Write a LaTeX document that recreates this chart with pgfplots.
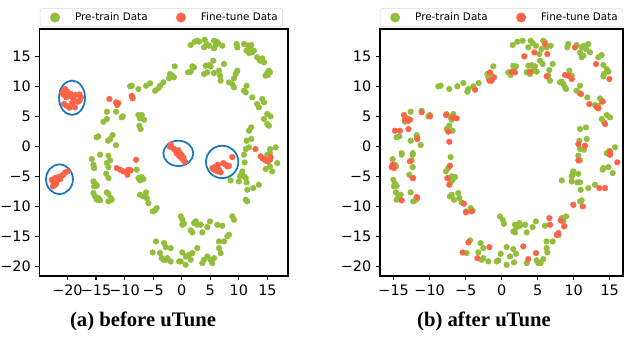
\documentclass[border=0pt]{standalone}
\usepackage{pgfplots}
\pgfplotsset{compat=1.18}
\usepackage{fontspec}
\setmainfont{DejaVu Sans}
\newfontfamily\capfont{Liberation Serif}
\definecolor{pgreen}{RGB}{146,190,60}
\definecolor{porange}{RGB}{255,99,71}
\definecolor{circcol}{RGB}{23,118,190}
\pgfplotsset{
  tsne/.style={
    scale only axis,
    axis line style={black, line width=0.8pt},
    tick align=outside, major tick length=3pt,
    tick style={black, line width=0.8pt},
    xtick pos=bottom, ytick pos=left,
    ymin=-21.6, ymax=19.55,
    ytick={-20,-15,-10,-5,0,5,10,15},
    yticklabels={−20,−15,−10,−5,0,5,10,15},
    ticklabel style={font=\fontsize{10.8}{12}\selectfont},
    legend columns=2,
    legend cell align=left,
    legend style={at={(0.5,1)}, anchor=south, yshift=1.5pt, draw=black!15, rounded corners=2pt,
      font=\fontsize{7.8}{9}\selectfont, inner xsep=3.75pt, inner ysep=3.2pt,
      nodes={inner xsep=0pt, inner ysep=0pt},
      /tikz/every odd column/.append style={column sep=0pt},
      /tikz/every even column/.append style={column sep=17.5pt}},
    legend image code/.code={\path[draw=none,fill=none] (0pt,0pt) -- (22.5pt,0pt);
      \path[##1,draw=none,mark size=3.5pt] plot coordinates {(7.5pt,0pt)};},
  },
  gr/.style={only marks, mark=*, mark size=2.1pt, mark options={draw=pgreen, fill=pgreen}},
  orr/.style={only marks, mark=*, mark size=2.1pt, mark options={draw=porange, fill=porange}},
}
\begin{document}
\begin{tikzpicture}
\path[use as bounding box] (0,0) rectangle (468pt,-252.75pt);
% ---------------- (a) before uTune ----------------
\begin{axis}[tsne, at={(29.6pt,-207pt)}, anchor=south west, width=186.4pt, height=185.25pt,
  xmin=-24.9, xmax=18.6,
  legend style={xshift=-1.8pt},
  xtick={-20,-15,-10,-5,0,5,10,15},
  xticklabels={−20,−15,−10,−5,0,5,10,15}]
\addplot[gr] coordinates {
(-8.74,10.1) (-9.04,10.0) (-7.59,9.55) (-6.24,10.1) (-5.54,10.5) (-4.67,9.27) (-4.09,9.67) (-3.8,10.1) (-3.2,10.67)
(-13.1,5.77) (-11.5,5.77) (-10.3,5.0) (-10.5,4.83) (-13.7,4.1) (-13.1,4.55)
(-7.59,5.22) (-7.0,5.22) (-7.3,4.66) (-6.6,4.44) (-7.4,3.44) (-7.2,2.88)
(-14.9,1.5) (-14.6,1.67) (-12.1,1.89) (-12.5,1.22) (-12.9,0.94) (-11.5,0.2)
(1.57,16.88) (2.27,17.44) (2.73,17.6) (3.03,17.44) (4.02,17.77) (4.37,17.05) (4.77,16.77) (3.9,16.49)
(5.65,17.6) (6.11,17.44) (5.94,16.88) (5.65,16.33) (6.35,17.22) (7.1,16.77) (9.61,17.05) (9.73,16.49)
(10.9,17.05) (11.6,16.77) (11.94,16.49) (12.17,16.88) (11.35,15.94) (11.77,15.55) (12.35,15.66) (12.64,15.94)
(13.2,14.83) (13.8,14.44) (14.1,14.66) (14.4,14.0) (13.69,14.27) (15.26,12.61) (14.97,12.22) (14.68,11.77)
(15.44,12.33) (15.09,11.88) (-1.23,13.33) (-2.04,12.05) (-1.64,11.77) (-1.35,11.5) (-2.22,11.33)
(1.1,12.33) (1.57,12.44) (1.86,13.33) (2.15,13.16) (3.9,12.05) (4.48,12.33) (4.19,13.44) (4.77,13.55)
(5.06,13.33) (5.53,14.27) (5.65,12.22) (6.52,12.61) (6.7,11.77) (6.81,10.94) (7.4,13.72) (9.73,12.61)
(9.43,12.05) (9.14,11.33) (8.27,10.66) (8.85,10.38) (9.14,9.83) (10.9,9.27) (11.2,8.99) (11.35,10.1)
(12.35,8.16) (14.1,7.88) (14.4,7.33) (13.2,7.05) (13.5,6.5) (14.97,5.38) (15.55,4.99) (14.4,4.55)
(14.97,3.72) (15.26,3.44) (12.17,3.16) (11.77,2.6) (11.35,0.94) (12.17,1.22) (11.77,-0.17) (11.2,-0.45)
(15.44,-0.45) (16.43,-0.17)
(-15.74,-2.12) (-14.28,-1.39) (-12.83,-1.56) (-12.54,-2.34) (-13.12,-2.78) (-12.83,-3.45) (-15.45,-3.06)
(-15.33,-3.62) (-13.23,-4.56) (-12.83,-5.28) (-15.45,-5.84) (-15.15,-6.23) (-15.33,-6.67) (-14.86,-6.56)
(-13.12,-7.67) (-12.83,-7.89) (-12.42,-8.62) (-12.83,-9.17) (-12.25,-8.89) (-15.45,-7.78) (-15.15,-8.34)
(-14.86,-8.89) (-14.57,-8.62) (-14.28,-9.0) (-7.87,-3.89) (-7.58,-5.28) (-7.0,-5.12) (-7.29,-5.67)
(-6.71,-5.45) (-7.29,-8.06) (-6.71,-8.34) (-6.24,-7.67) (-6.12,-8.62) (-5.83,-9.45) (-4.38,-10.28)
(-5.08,-10.84) (-4.67,-10.67) (-4.5,-15.84) (-5.08,-17.67) (-3.8,-17.78) (-3.51,-18.62) (-3.2,-18.89)
(10.9,-1.39) (11.0,-2.67) (10.6,-4.17) (10.4,-4.73) (10.2,-5.0) (10.9,-5.0) (11.2,-5.28) (11.35,-6.0)
(8.56,-5.67) (10.0,-5.84) (11.47,-7.23) (12.52,-6.95) (13.5,-6.4) (11.2,-8.89) (11.47,-9.17)
(14.68,-3.78) (15.44,-3.34) (15.84,-4.17) (16.72,-2.78) (14.97,-1.39) (15.44,-1.12)
(-0.18,-11.67) (0.11,-12.23) (0.4,-12.9) (0.11,-13.06) (2.15,-12.78) (2.44,-12.5) (2.73,-13.06)
(1.57,-14.0) (1.86,-14.34) (3.61,-14.34) (3.32,-13.06) (4.48,-13.45) (4.95,-12.5) (6.23,-13.06)
(7.1,-13.23) (8.85,-11.67) (9.14,-12.23) (8.27,-14.73) (7.98,-15.0) (7.4,-15.84) (6.52,-15.84)
(6.52,-16.95) (6.81,-17.78) (5.65,-18.62) (5.06,-18.9) (5.35,-19.45) (3.9,-18.9) (3.61,-19.45)
(4.48,-18.34) (2.73,-16.95) (1.86,-17.78) (1.28,-18.06) (1.57,-18.9) (0.69,-18.34) (0.11,-17.67)
(-0.18,-19.17) (-0.47,-19.17) (0.69,-19.73) (-1.93,-16.95) (-2.8,-16.78) (-3.09,-16.1) (-2.51,-18.62)
(-2.8,-18.9) (-1.93,-19.17)
};
\addlegendentry{Pre-train Data}
\addplot[orr] coordinates {
(-20.4,9.55) (-20.0,9.1) (-20.7,8.6) (-20.2,8.16) (-19.4,8.72) (-18.65,8.55) (-17.9,8.66) (-17.66,8.16)
(-18.95,7.88) (-18.2,7.44) (-19.2,7.22) (-20.2,6.78) (-19.65,6.44) (-18.7,6.5) (-20.6,7.05) (-17.9,7.6)
(-19.8,8.4) (-19.0,8.2) (-20.9,8.9)
(-12.66,7.88) (-11.5,7.33) (-11.1,7.2) (-11.3,6.9) (-8.74,8.43) (-8.6,8.0)
(-11.38,-3.62) (-10.8,-3.89) (-10.2,-4.17) (-9.33,-3.89) (-8.92,-4.0) (-9.5,-4.73) (-7.99,-2.23)
(-20.4,-4.34) (-19.99,-4.17) (-20.99,-4.89) (-20.69,-4.73) (-21.57,-5.12) (-22.15,-5.28) (-22.73,-5.56)
(-22.44,-6.0) (-22.15,-6.4) (-22.56,-6.67) (-21.86,-5.84) (-21.28,-5.45) (-21.98,-6.23) (-22.33,-5.67)
(-21.4,-5.28)
(-2.05,-0.07) (-1.46,-0.33) (-1.9,0.3) (-0.59,-0.62) (-0.3,-1.17) (0,-1.45) (-0.87,-0.9) (-0.87,-1.17)
(-0.3,-1.73) (0.28,-2.28) (0.58,-2.56) (0,-2.0) (-0.59,-1.45) (0.3,-1.9) (-1.2,-0.6)
(5.35,-3.62) (5.65,-3.89) (6.23,-4.17) (6.52,-3.89) (6.81,-4.34) (6.35,-3.06) (7.28,-2.78) (7.69,-3.06)
(7.98,-3.34) (8.27,-3.23) (8.85,-1.78) (5.94,-3.34)
(12.9,-0.45) (13.8,-1.67) (14.1,-1.95) (14.4,-2.12) (14.68,-2.34) (14.97,-2.5) (15.44,-2.23) (15.55,-1.78)
};
\addlegendentry{Fine-tune Data}
\draw[circcol, line width=1.3pt] (axis cs:-19.2,8.1) ellipse [x radius=9.75pt, y radius=12.9pt];
\draw[circcol, line width=1.3pt] (axis cs:-21.4,-5.48) ellipse [x radius=10.1pt, y radius=11.1pt];
\draw[circcol, line width=1.3pt] (axis cs:-0.6,-1.17) ellipse [x radius=11.25pt, y radius=9.5pt];
\draw[circcol, line width=1.3pt] (axis cs:7.08,-2.6) ellipse [x radius=12.15pt, y radius=12.15pt];
\end{axis}
% ---------------- (b) after uTune ----------------
\begin{axis}[tsne, at={(285pt,-207pt)}, anchor=south west, width=182.25pt, height=185.25pt,
  xmin=-16.9, xmax=16.85,
  xtick={-15,-10,-5,0,5,10,15},
  xticklabels={−15,−10,−5,0,5,10,15}]
\addplot[gr] coordinates {
(1.53,16.88) (2.17,17.44) (2.91,17.6) (3.7,16.49) (4.02,17.6) (4.3,17.22) (4.76,16.77) (5.23,15.38)
(5.55,16.22) (5.78,17.6) (6.01,17.33) (6.24,16.49) (6.8,16.77) (9.26,17.05) (9.12,16.49) (10.41,16.88)
(11.11,16.49) (11.43,16.77) (11.71,16.22) (10.88,15.66) (11.34,15.1) (11.11,14.83) (12.27,15.66)
(12.03,17.05) (13.42,14.83) (13.89,15.22) (14.12,13.55) (14.59,12.88) (14.82,12.44) (14.21,12.05)
(14.12,11.66) (-1.16,13.33) (-1.99,12.05) (-1.39,11.77) (-1.62,11.22) (-1.85,11.5) (0.92,12.33)
(1.25,11.88) (1.62,13.44) (1.99,13.33) (1.71,12.61) (3.7,13.44) (4.16,13.55) (4.62,13.33) (4.39,12.61)
(3.93,12.05) (3.47,12.33) (4.86,12.44) (5.32,14.27) (5.69,13.72) (7.08,13.72) (6.62,12.7) (6.48,11.77)
(6.71,10.94) (-8.8,9.99) (-8.48,10.1) (-7.28,9.55) (-6.16,9.99) (-5.33,10.55) (-4.63,9.55) (-4.77,9.11)
(-3.94,9.99) (-3.2,10.55) (8.34,10.77) (8.57,10.38) (8.8,9.83) (8.94,9.55) (8.1,10.66) (9.4,12.61)
(9.72,11.77) (10.41,9.27) (10.79,8.88) (10.88,10.1) (11.9,8.16) (12.96,6.88) (13.42,6.77) (13.66,7.99)
(13.89,7.6) (13.89,4.55) (14.59,5.22) (15.05,4.83) (14.21,4.0) (10.88,2.88) (11.71,3.16) (11.8,1.22)
(10.79,0.94) (10.88,-0.45) (11.43,-0.56) (15.75,-0.17) (14.96,-0.73)
(-12.64,5.77) (-13.1,4.66) (-13.43,4.11) (-11.12,5.94) (-10.19,4.99) (-9.96,5.22) (-7.65,5.38)
(-7.09,4.83) (-6.72,5.38) (-6.95,4.44) (-7.28,3.44) (-7.65,2.88) (-6.81,2.6) (-14.59,1.5) (-14.22,1.66)
(-11.8,1.89) (-11.72,1.5) (-12.64,0.94) (-11.25,0.22) (-13.89,-1.12) (-12.36,-1.12)
(-15.14,-2.12) (-14.82,-3.06) (-14.68,-3.34) (-15.05,-5.56) (-14.82,-6.23) (-14.59,-6.56) (-14.96,-6.67)
(-14.68,-7.67) (-14.36,-8.34) (-14.03,-8.06) (-14.59,-8.89) (-13.89,-1.39) (-12.36,-1.39) (-12.5,-2.34)
(-12.36,-3.45) (-12.83,-4.73) (-12.27,-5.28) (-12.64,-7.67) (-12.27,-9.17) (-11.9,-8.89) (-11.72,-8.62)
(-7.09,-1.78) (-7.42,-3.62) (-7.74,-4.17) (-6.95,-5.0) (-6.48,-5.12) (-6.81,-5.56) (-7.09,-6.0)
(-7.18,-8.34) (-6.95,-8.06) (-6.62,-8.89) (-6.02,-7.78) (-5.88,-8.62) (-5.56,-9.34) (-4.96,-10.84)
(-4.31,-10.28) (-4.03,-10.67)
(10.65,-1.56) (10.88,-2.34) (9.95,-4.17) (9.72,-5.0) (9.86,-4.73) (10.65,-4.56) (10.88,-6.0) (10.5,-6.0)
(8.34,-5.67) (9.72,-5.84) (10.97,-7.23) (11.11,-9.0) (10.88,-9.17) (12.03,-6.95) (12.96,-6.4)
(14.03,-3.89) (14.12,-3.62) (14.82,-3.45) (15.42,-4.45) (14.59,-1.12) (14.96,-1.39)
(-0.23,-11.67) (0.14,-12.23) (0.32,-12.9) (1.85,-13.06) (2.08,-13.45) (2.45,-12.78) (2.54,-13.23)
(3.24,-13.06) (3.47,-14.34) (1.62,-14.17) (1.85,-14.34) (4.3,-13.45) (4.76,-12.5) (6.01,-13.23)
(6.24,-15.84) (7.08,-15.84) (6.24,-16.95) (6.34,-17.67) (4.86,-19.0) (5.41,-19.45) (5.78,-18.78)
(5.09,-19.45) (3.47,-19.45) (1.71,-19.34) (0.69,-19.73) (1.16,-18.34) (1.99,-17.9) (0.69,-16.78)
(1.62,-17.12) (-0.14,-17.9) (-0.46,-19.0) (-0.69,-19.17) (-1.85,-19.17) (-2.55,-18.62) (-2.78,-18.9)
(-2.55,-16.95) (-3.24,-17.67) (-2.92,-16.12) (-4.4,-15.67) (-4.87,-17.78) (8.34,-11.95) (8.57,-12.5)
(8.94,-11.67) (8.66,-13.34) (7.9,-14.8)
};
\addlegendentry{Pre-train Data}
\addplot[orr] coordinates {
(6.01,17.05) (6.34,15.38) (4.53,15.66) (3.15,14.99) (10.18,16.49) (13.1,13.72) (14.96,11.22) (8.8,11.88)
(9.26,11.77) (9.72,11.22) (6.24,11.66) (3.93,12.44) (1.39,12.44) (1.85,12.33) (-1.62,12.33) (-1.71,10.94)
(-1.39,10.94) (-1.07,11.5) (-3.7,9.44) (11.02,8.72) (12.17,7.05) (13.19,6.5) (13.42,6.33) (14.03,7.44)
(14.36,3.72) (-13.57,5.22) (-13.43,4.44) (-12.96,4.27) (-12.73,4.44) (-11.12,5.66) (-9.96,4.99)
(-7.74,5.22) (-6.81,4.83) (-6.25,4.66) (-14.82,2.6) (-14.13,2.6) (-12.96,2.88) (-11.72,1.22)
(-7.42,2.44) (-7.28,0.77) (10.65,0.38) (11.57,0.11) (15.05,-0.89)
(-15.14,-3.06) (-14.96,-3.62) (-15.28,-3.45) (-12.74,-2.5) (-12.36,-5.28) (-13.89,-9.0) (-11.8,-8.45)
(-7.18,-3.23) (-7.55,-5.28) (-7.28,-6.4) (-5.24,-9.56) (-4.96,-11.0) (-4.17,-10.84) (10.65,-2.34)
(9.95,-9.73) (11.25,-10.0) (13.56,-6.95) (14.36,-6.95) (16.06,-2.67) (15.05,-1.39) (6.62,-11.95)
(6.71,-13.06) (8.2,-12.34) (7.64,-14.73) (7.87,-14.45) (3.0,-16.67) (4.76,-17.78) (3.7,-18.78)
(-1.71,-16.78) (-4.63,-16.0) (-5.42,-17.67) (-3.38,-18.62) (8.7,-13.3)
};
\addlegendentry{Fine-tune Data}
\end{axis}
\node[font=\capfont\bfseries\fontsize{15.5}{18}\selectfont, anchor=center] at (107.25pt,-240.75pt) {(a) before uTune};
\node[font=\capfont\bfseries\fontsize{15.5}{18}\selectfont, anchor=center] at (363pt,-240.75pt) {(b) after uTune};
\end{tikzpicture}
\end{document}
